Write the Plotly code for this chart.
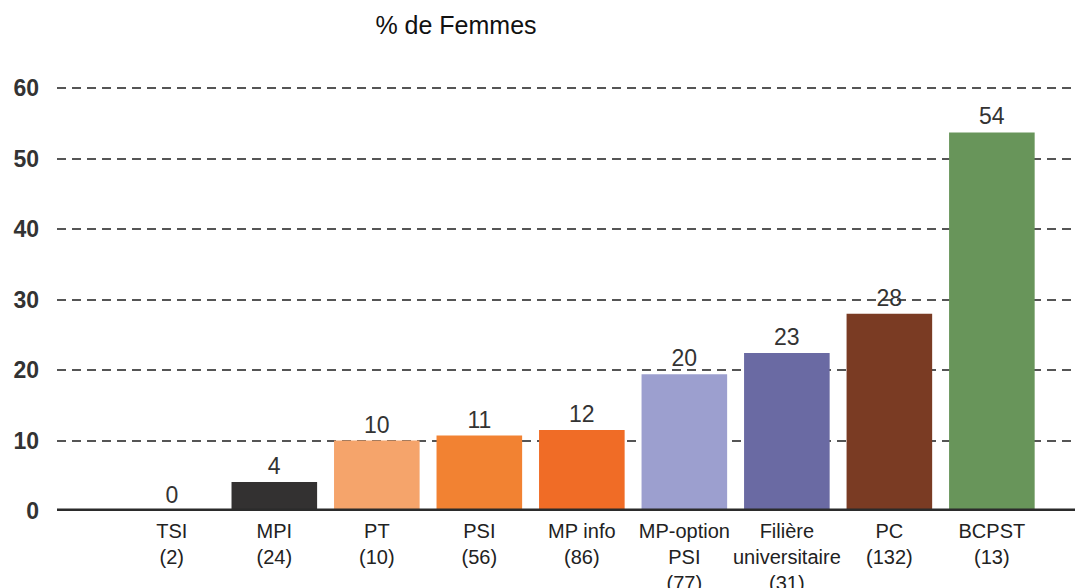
import plotly.graph_objects as go

categories = ["TSI<br>(2)", "MPI<br>(24)", "PT<br>(10)", "PSI<br>(56)", "MP info<br>(86)",
              "MP-option<br>PSI<br>(77)", "Filière<br>universitaire<br>(31)", "PC<br>(132)", "BCPST<br>(13)"]
values = [0, 4.1, 10.0, 10.7, 11.5, 19.4, 22.4, 28.0, 53.7]
labels = ["0", "4", "10", "11", "12", "20", "23", "28", "54"]
colors = ["#333131", "#333131", "#F5A46B", "#F28232", "#F06C26", "#9C9FCF", "#6A6AA3", "#7A3B23", "#68955A"]
yticks = [0, 10, 20, 30, 40, 50, 60]

W, H = 1075, 580  # page body has an 8px margin

fig = go.Figure()
fig.add_trace(go.Bar(
    x=list(range(len(categories))), y=values, marker=dict(color=colors, line=dict(width=0)),
    text=labels, textposition="outside", cliponaxis=False,
    textfont=dict(family="Liberation Sans, Arial", size=23, color="#333333"),
    width=0.835,
))
fig.add_shape(type="line", xref="paper", yref="y", x0=0, x1=1, y0=0, y1=0,
              line=dict(color="#2b2b2b", width=5), layer="above")
fig.update_layout(
    width=W, height=H,
    margin=dict(l=49, r=0, t=79, b=77, autoexpand=False),
    plot_bgcolor="white", paper_bgcolor="white",
    showlegend=False,
    title=dict(text="% de Femmes", x=448 / W, xanchor="center", y=1 - 17 / H, yanchor="middle",
               font=dict(family="Liberation Sans, Arial", size=25, color="#111111")),
    xaxis=dict(range=[-1.12, 8.889], tickmode="array", tickvals=list(range(len(categories))),
               ticktext=categories, showgrid=False, zeroline=False, showline=False, ticks="",
               automargin=False, ticklabelstandoff=6,
               tickfont=dict(family="Liberation Sans, Arial", size=20, color="#222222")),
    yaxis=dict(range=[0, 60.15], tickvals=yticks, showgrid=True, gridcolor="#555555", griddash="9px,6px",
               gridwidth=1.6, zeroline=False, showline=False, ticks="", ticklabelstandoff=17,
               automargin=False,
               tickfont=dict(family="Liberation Sans, Arial", size=23, color="#333333", weight="bold")),
    bargap=0.17,
)
fig.write_html("out.html")
